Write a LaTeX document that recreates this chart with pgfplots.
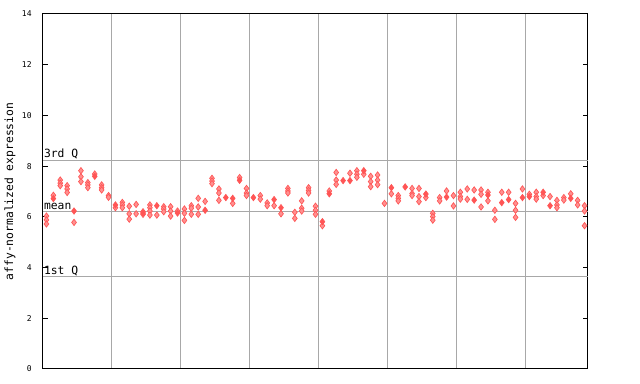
\documentclass[border=0pt]{standalone}
\usepackage{pgfplots}
\pgfplotsset{compat=1.18}
\usepackage{fontspec}
\setmainfont{DejaVu Sans Mono}
\definecolor{pt}{RGB}{255,85,85}
\definecolor{gr}{RGB}{168,168,168}
\begin{document}
\begin{tikzpicture}
\begin{axis}[
  at={(0,0)}, anchor=south west,
  scale only axis, width=408.75pt, height=266.25pt,
  xmin=-0.5, xmax=78.5, ymin=0, ymax=14,
  axis line style={black, line width=0.75pt},
  xtick={9.5,19.5,29.5,39.5,49.5,59.5,69.5},
  xticklabels={},
  x tick style={draw=none},
  xmajorgrids, major grid style={gr, line width=0.75pt},
  ytick={0,2,4,6,8,10,12,14},
  y tick style={black, line width=0.75pt},
  tick align=inside, ytick pos=both, major tick length=3.75pt,
  yticklabel style={font=\fontsize{6}{7}\selectfont, xshift=-5pt},
  /pgf/number format/assume math mode=true,
  ylabel={affy-normalized expression},
  every axis y label/.style={at={(axis description cs:-0.0606,0.5)}, rotate=90, anchor=center, font=\fontsize{8.5}{10}\selectfont},
  clip=false,
]
\addplot[gr, line width=0.75pt, forget plot] coordinates {(-0.5,8.23) (78.5,8.23)};
\addplot[gr, line width=0.75pt, forget plot] coordinates {(-0.5,6.23) (78.5,6.23)};
\addplot[gr, line width=0.75pt, forget plot] coordinates {(-0.5,3.63) (78.5,3.63)};
\node[anchor=south west, inner sep=0.6pt, font=\fontsize{8.5}{10}\selectfont] at (axis cs:-0.5,8.23) {3rd Q};
\node[anchor=south west, inner sep=0.6pt, font=\fontsize{8.5}{10}\selectfont] at (axis cs:-0.5,6.23) {mean};
\node[anchor=south west, inner sep=0.6pt, font=\fontsize{8.5}{10}\selectfont] at (axis cs:-0.5,3.63) {1st Q};
% checkered points
\addplot[only marks, mark=diamond*, mark size=2.4pt, mark options={draw=pt, fill=pt!65, line width=0.5pt}] coordinates {
(0,6.03)(0,5.88)(0,5.72)
(1,6.85)
(2,7.45)(2,7.33)(2,7.23)
(3,7.23)(3,7.1)(3,6.96)
(4,5.78)
(5,7.82)(5,7.58)(5,7.39)
(6,7.35)(6,7.26)(6,7.15)
(7,7.69)
(8,7.26)(8,7.15)(8,7.06)
(9,6.84)(9,6.77)
(10,6.36)
(11,6.57)(11,6.47)(11,6.36)
(12,6.42)(12,6.12)(12,5.91)
(13,6.49)(13,6.12)
(14,6.2)(14,6.1)
(15,6.47)(15,6.36)(15,6.23)(15,6.07)
(16,6.07)
(17,6.4)(17,6.31)(17,6.2)
(18,6.4)(18,6.23)(18,6.03)
(19,6.23)
(20,6.31)(20,6.14)(20,5.86)
(21,6.44)(21,6.34)(21,6.1)
(22,6.73)(22,6.39)(22,6.1)
(23,6.61)
(24,7.52)(24,7.41)(24,7.31)
(25,7.1)(25,6.94)(25,6.65)
(27,6.53)
(28,7.55)
(29,7.12)(29,6.94)(29,6.84)
(31,6.84)(31,6.7)
(32,6.55)(32,6.44)
(33,6.44)
(34,6.12)
(35,7.12)(35,7.02)(35,6.94)
(36,6.18)(36,5.94)
(37,6.63)(37,6.34)(37,6.23)
(38,7.15)(38,7.04)(38,6.94)
(39,6.42)(39,6.26)(39,6.1)
(40,5.65)
(41,7.02)
(42,7.75)(42,7.45)(42,7.28)
(44,7.72)
(45,7.82)(45,7.68)(45,7.56)
(46,7.68)
(47,7.6)(47,7.39)(47,7.19)
(48,7.65)(48,7.45)(48,7.27)
(49,6.53)
(50,6.91)
(51,6.84)(51,6.73)(51,6.63)
(53,7.12)(53,6.92)(53,6.84)
(54,7.12)(54,6.8)(54,6.6)
(55,6.76)
(56,6.14)(56,6.01)(56,5.87)
(57,6.76)(57,6.63)
(58,7.02)
(59,6.84)(59,6.43)
(60,6.97)(60,6.8)(60,6.7)
(61,7.1)(61,6.69)
(62,7.06)
(63,7.06)(63,6.89)(63,6.39)
(64,6.97)(64,6.63)
(65,6.26)(65,5.9)
(66,6.97)
(67,6.97)
(68,6.53)(68,6.26)(68,5.98)
(69,7.1)
(70,6.89)
(71,6.97)(71,6.8)(71,6.7)
(72,6.84)
(73,6.8)
(74,6.65)(74,6.47)(74,6.36)
(75,6.76)(75,6.66)
(76,6.91)
(77,6.65)(77,6.47)
(78,6.44)(78,6.23)(78,5.65)
};
% solid points
\addplot[only marks, mark=diamond*, mark size=2.4pt, mark options={draw=pt, fill=pt, line width=0.5pt}] coordinates {
(1,6.72)(4,6.23)(7,7.6)(10,6.47)(14,6.15)(16,6.44)(19,6.15)(23,6.26)
(26,6.76)(27,6.73)(28,7.44)(30,6.76)(33,6.68)(34,6.36)(40,5.81)(41,6.91)
(43,7.43)(44,7.43)(46,7.82)(50,7.15)(52,7.18)(55,6.9)(58,6.78)(62,6.66)
(64,6.86)(66,6.56)(67,6.68)(69,6.76)(70,6.8)(72,6.97)(73,6.44)(76,6.73)
};
\end{axis}
\pgfresetboundingbox
\path[use as bounding box] (-32.25pt,-11.25pt) rectangle (447.75pt,276.75pt);
\end{tikzpicture}
\end{document}
